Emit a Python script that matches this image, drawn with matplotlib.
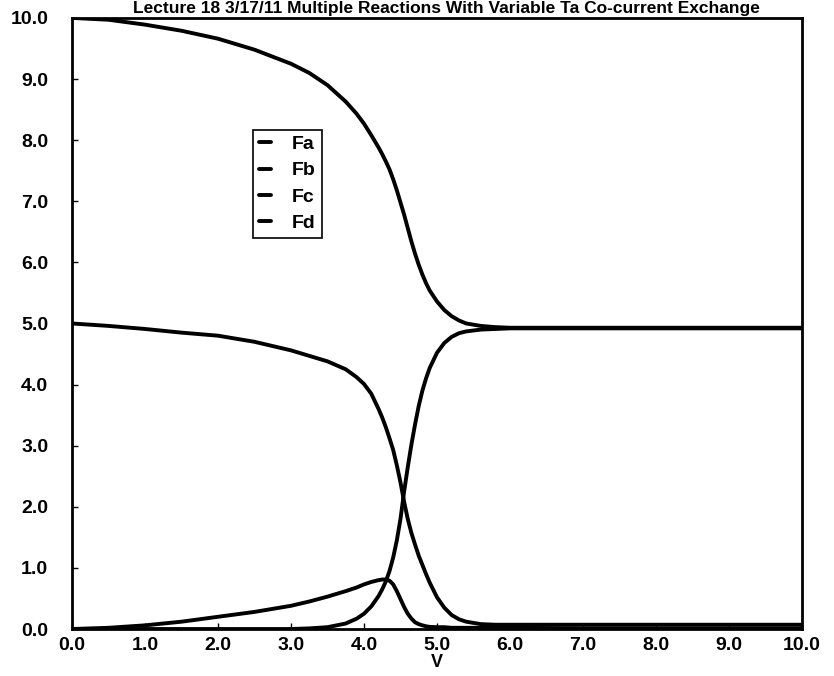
import matplotlib
matplotlib.use('Agg')
import matplotlib.pyplot as plt

plt.rcParams['font.family'] = ['Liberation Sans', 'DejaVu Sans']
plt.rcParams['font.weight'] = 'bold'

# data
V = [0, 0.5, 1.0, 1.5, 2.0, 2.5, 3.0, 3.25, 3.5, 3.75, 3.9, 4.0, 4.1, 4.2, 4.25, 4.3, 4.35,
     4.4, 4.45, 4.5, 4.55, 4.6, 4.65, 4.7, 4.75, 4.8, 4.85, 4.9, 5.0, 5.1, 5.2, 5.3, 5.4,
     5.6, 5.8, 6.0, 7.0, 8.0, 9.0, 10.0]
Fa = [10.0, 9.97, 9.89, 9.79, 9.66, 9.48, 9.25, 9.1, 8.9, 8.63, 8.43, 8.27, 8.08, 7.88, 7.77,
      7.65, 7.52, 7.36, 7.18, 6.98, 6.78, 6.56, 6.34, 6.14, 5.96, 5.8, 5.66, 5.54, 5.36, 5.22,
      5.12, 5.05, 5.0, 4.96, 4.94, 4.93, 4.93, 4.93, 4.93, 4.93]
Fb = [5.0, 4.96, 4.91, 4.85, 4.8, 4.7, 4.56, 4.47, 4.38, 4.25, 4.12, 4.01, 3.85, 3.6, 3.46,
      3.3, 3.12, 2.93, 2.68, 2.4, 2.08, 1.8, 1.57, 1.38, 1.2, 1.05, 0.9, 0.76, 0.52, 0.35,
      0.23, 0.16, 0.12, 0.08, 0.07, 0.07, 0.07, 0.07, 0.07, 0.07]
Fc = [0.0, 0.0, 0.0, 0.0, 0.0, 0.0, 0.0, 0.01, 0.03, 0.09, 0.17, 0.25, 0.37, 0.54, 0.65,
      0.78, 0.95, 1.17, 1.45, 1.8, 2.25, 2.65, 3.02, 3.35, 3.65, 3.9, 4.1, 4.27, 4.52, 4.68,
      4.78, 4.84, 4.87, 4.9, 4.91, 4.92, 4.92, 4.92, 4.92, 4.92]
Fd = [0.0, 0.02, 0.06, 0.12, 0.2, 0.28, 0.38, 0.45, 0.53, 0.62, 0.68, 0.73, 0.77, 0.8, 0.81,
      0.81, 0.79, 0.73, 0.62, 0.49, 0.36, 0.25, 0.17, 0.11, 0.08, 0.06, 0.045, 0.035, 0.03, 0.03,
      0.02, 0.02, 0.02, 0.02, 0.02, 0.02, 0.01, 0.01, 0.01, 0.01]

ticks = [0, 1, 2, 3, 4, 5, 6, 7, 8, 9, 10]
tick_labels = ['%.1f' % t for t in ticks]

fig = plt.figure(figsize=(8.34, 6.76), dpi=100)
ax = fig.add_axes([0.0863, 0.0695, 0.8753, 0.904])

for name, ys in [('Fa', Fa), ('Fb', Fb), ('Fc', Fc), ('Fd', Fd)]:
    ax.plot(V, ys, color='black', lw=2.8, label=name,
            solid_capstyle='round', solid_joinstyle='round')

ax.set_xlim(0, 10)
ax.set_ylim(0, 10)
ax.set_xticks(ticks)
ax.set_xticklabels(tick_labels)
ax.set_yticks(ticks)
ax.set_yticklabels(tick_labels)
ax.tick_params(direction='in', length=4, width=1, labelsize=14)
ax.tick_params(axis='x', pad=6)
ax.tick_params(axis='y', pad=17)
for s in ax.spines.values():
    s.set_linewidth(2)

ax.set_xlabel('V', fontsize=13, fontweight='bold', labelpad=0)

leg = ax.legend(loc='upper left', bbox_to_anchor=(0.235, 0.833), handlelength=0.6,
                handletextpad=1.1, fancybox=False, edgecolor='black', framealpha=1,
                prop={'size': 14, 'weight': 'bold'}, borderpad=0.3, labelspacing=0.45)
leg.get_frame().set_linewidth(1.2)

fig.text(0.535, 0.999, 'Lecture 18 3/17/11 Multiple Reactions With Variable Ta Co-current Exchange',
         ha='center', va='top', fontsize=12.5, fontweight='bold')

fig.savefig('out.png', dpi=100)
